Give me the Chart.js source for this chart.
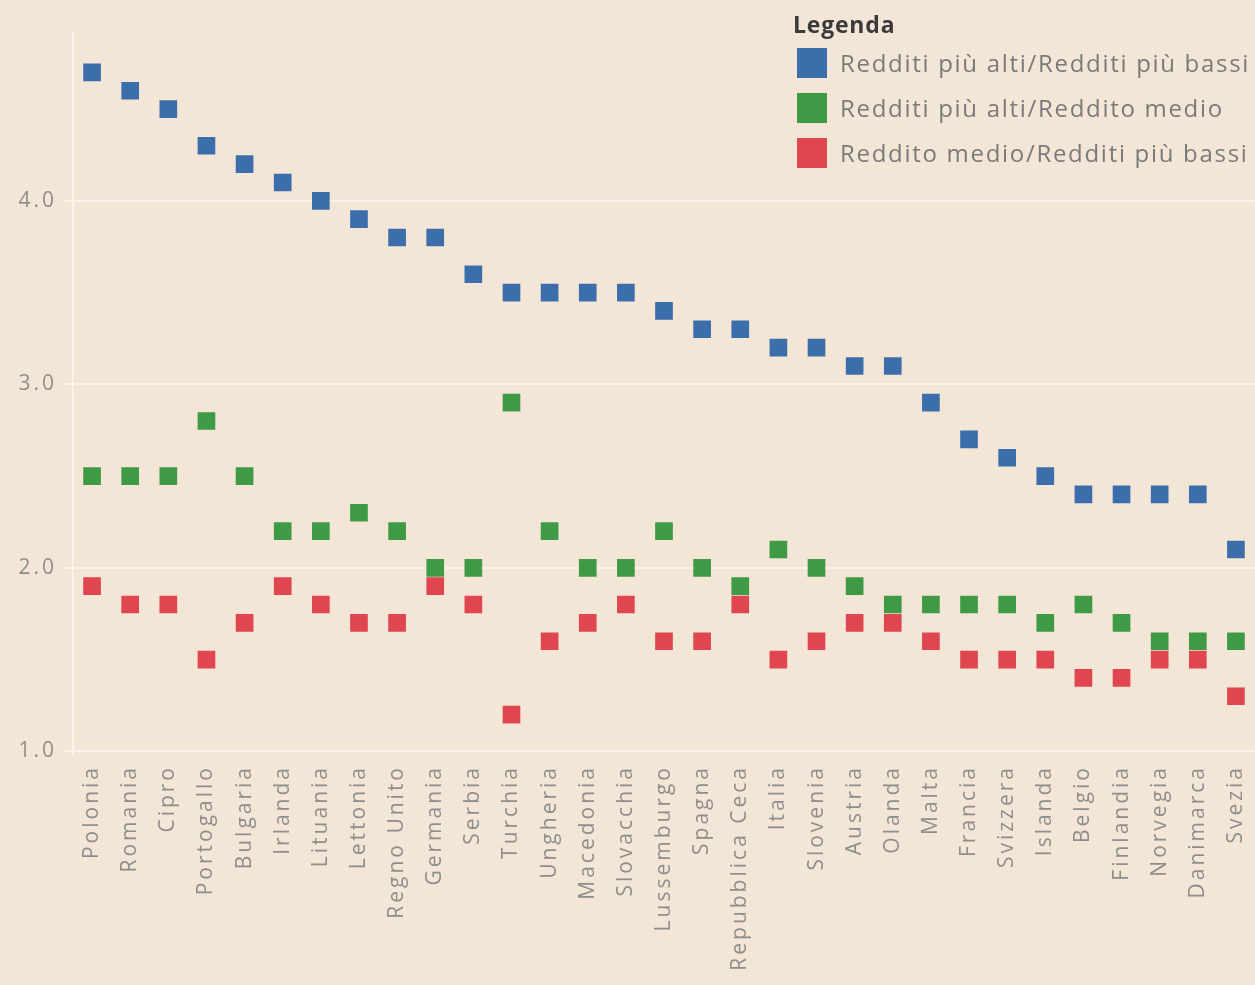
<!DOCTYPE html>
<html>
<head>
<meta charset="utf-8">
<script src="https://cdn.jsdelivr.net/npm/chart.js@4.4.1/dist/chart.umd.min.js"></script>
<style>
  html, body { margin: 0; overflow: hidden; background: #f4e6d7; font-family: "Open Sans", sans-serif; }
  #wrap { position: relative; width: 1255px; height: 985px; }
  #grafico { display: block; }
  #legenda { position: absolute; left: 793px; top: 9px; }
  #legenda .titolo { font-weight: bold; font-size: 23px; color: #3a3a3a; height: 31px; line-height: 31px; letter-spacing: 0.8px; }
  #legenda .voce { display: flex; align-items: center; height: 45px; margin-left: 4px; }
  #legenda .quadro { width: 30px; height: 30px; margin-right: 13px; }
  #legenda .testo { font-size: 24px; color: #7a7a7a; letter-spacing: 1.7px; }
</style>
</head>
<body>
<div id="wrap">
  <canvas id="grafico" width="1255" height="985"></canvas>
  <div id="legenda"></div>
</div>
<script>
// Dati
const paesi = ['Polonia', 'Romania', 'Cipro', 'Portogallo', 'Bulgaria', 'Irlanda', 'Lituania', 'Lettonia',
  'Regno Unito', 'Germania', 'Serbia', 'Turchia', 'Ungheria', 'Macedonia', 'Slovacchia', 'Lussemburgo',
  'Spagna', 'Repubblica Ceca', 'Italia', 'Slovenia', 'Austria', 'Olanda', 'Malta', 'Francia', 'Svizzera',
  'Islanda', 'Belgio', 'Finlandia', 'Norvegia', 'Danimarca', 'Svezia'];

const altiSuBassi = [4.7, 4.6, 4.5, 4.3, 4.2, 4.1, 4.0, 3.9, 3.8, 3.8, 3.6, 3.5, 3.5, 3.5, 3.5, 3.4,
  3.3, 3.3, 3.2, 3.2, 3.1, 3.1, 2.9, 2.7, 2.6, 2.5, 2.4, 2.4, 2.4, 2.4, 2.1];
const altiSuMedio = [2.5, 2.5, 2.5, 2.8, 2.5, 2.2, 2.2, 2.3, 2.2, 2.0, 2.0, 2.9, 2.2, 2.0, 2.0, 2.2,
  2.0, 1.9, 2.1, 2.0, 1.9, 1.8, 1.8, 1.8, 1.8, 1.7, 1.8, 1.7, 1.6, 1.6, 1.6];
const medioSuBassi = [1.9, 1.8, 1.8, 1.5, 1.7, 1.9, 1.8, 1.7, 1.7, 1.9, 1.8, 1.2, 1.6, 1.7, 1.8, 1.6,
  1.6, 1.8, 1.5, 1.6, 1.7, 1.7, 1.6, 1.5, 1.5, 1.5, 1.4, 1.4, 1.5, 1.5, 1.3];

const yTicks = [1, 2, 3, 4];

const serie = [
  { nome: 'Redditi più alti/Redditi più bassi', dati: altiSuBassi, colore: '#3b6eab' },
  { nome: 'Redditi più alti/Reddito medio', dati: altiSuMedio, colore: '#3f9a45' },
  { nome: 'Reddito medio/Redditi più bassi', dati: medioSuBassi, colore: '#df4650' },
];

// Legenda in HTML
const legenda = document.getElementById('legenda');
legenda.innerHTML = '<div class="titolo">Legenda</div>';
serie.forEach((s) => {
  const voce = document.createElement('div');
  voce.className = 'voce';
  voce.innerHTML = `<div class="quadro" style="background:${s.colore}"></div><span class="testo">${s.nome}</span>`;
  legenda.appendChild(voce);
});

// spaziatura lettere come nel grafico originale
const spaziatura = {
  id: 'spaziatura',
  beforeDraw(chart) {
    chart.ctx.letterSpacing = '3px';
  },
};

const grigio = '#8e8e8e';
const griglia = '#fbf3ea';

new Chart(document.getElementById('grafico').getContext('2d'), {
  type: 'line',
  data: {
    labels: paesi,
    datasets: serie.map((s) => ({
      label: s.nome,
      data: s.dati,
      showLine: false,
      pointStyle: 'rect',
      pointRadius: 12.5,
      pointHoverRadius: 12.5,
      pointBorderWidth: 0,
      backgroundColor: s.colore,
      borderColor: s.colore,
    })),
  },
  options: {
    responsive: false,
    animation: false,
    layout: { autoPadding: false, padding: { top: 32, left: 0, right: 0, bottom: 0 } },
    plugins: {
      legend: { display: false },
      tooltip: { enabled: false },
    },
    scales: {
      x: {
        offset: true,
        grid: { display: false },
        border: { display: false },
        ticks: {
          autoSkip: false,
          minRotation: 90,
          maxRotation: 90,
          padding: 2,
          color: grigio,
          font: { family: 'Open Sans', size: 21 },
        },
        afterFit: (scale) => {
          scale.height = 230;
          scale.paddingLeft = 0;
          scale.paddingRight = 0;
        },
      },
      y: {
        min: 0.98,
        max: 4.92,
        grid: { color: griglia, lineWidth: 2, tickLength: 10 },
        border: { color: griglia, width: 2 },
        ticks: {
          padding: 6,
          color: grigio,
          font: { family: 'Open Sans', size: 21 },
          callback: (v) => Number(v).toFixed(1),
        },
        afterBuildTicks: (scale) => { scale.ticks = yTicks.map((v) => ({ value: v })); },
        afterFit: (scale) => { scale.width = 73; },
      },
    },
  },
  plugins: [spaziatura],
});
</script>
</body>
</html>
